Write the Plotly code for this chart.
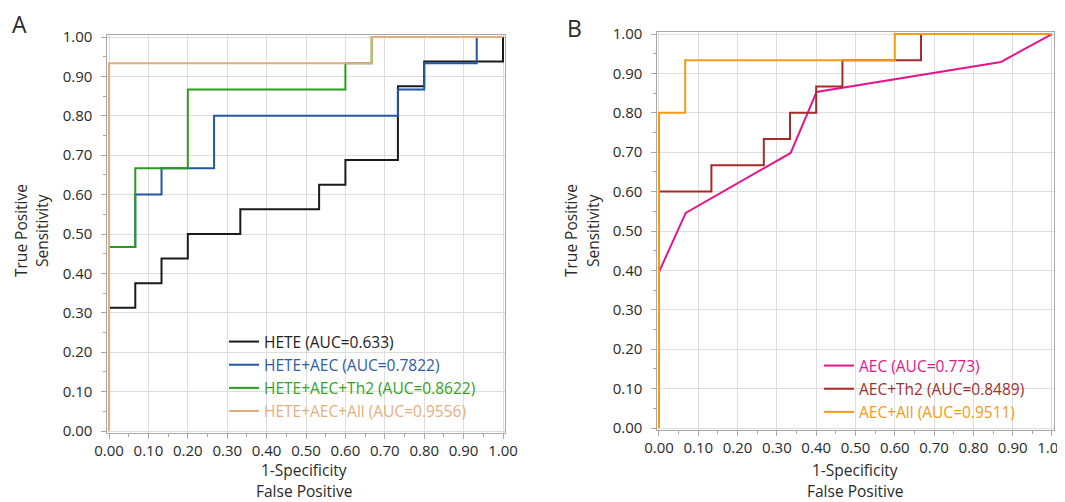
import plotly.graph_objects as go

# ---------------- data (ROC corner points) ----------------
# Panel A
hete_fpr = [0, 0, 0.0667, 0.1333, 0.2, 0.3333, 0.5333, 0.6, 0.7333, 0.8, 1.0]
hete_tpr = [0, 0.3125, 0.375, 0.4375, 0.5, 0.5625, 0.625, 0.6875, 0.875, 0.9375, 1.0]

hete_aec_fpr = [0, 0, 0.0667, 0.1333, 0.2667, 0.7333, 0.8, 0.9333, 1.0]
hete_aec_tpr = [0, 0.4667, 0.6, 0.6667, 0.8, 0.8667, 0.9333, 1.0, 1.0]

hete_aec_th2_fpr = [0, 0, 0.0667, 0.2, 0.6, 0.6667, 1.0]
hete_aec_th2_tpr = [0, 0.4667, 0.6667, 0.8667, 0.9333, 1.0, 1.0]

hete_aec_all_fpr = [0, 0, 0.6667, 1.0]
hete_aec_all_tpr = [0, 0.9333, 1.0, 1.0]

# Panel B
aec_fpr = [0, 0, 0.068, 0.335, 0.401, 0.870, 1.0]
aec_tpr = [0, 0.396, 0.546, 0.698, 0.853, 0.929, 1.0]

aec_th2_fpr = [0, 0, 0.1333, 0.2667, 0.3333, 0.4, 0.4667, 0.6667, 1.0]
aec_th2_tpr = [0, 0.6, 0.6667, 0.7333, 0.8, 0.8667, 0.9333, 1.0, 1.0]

aec_all_fpr = [0, 0, 0.0667, 0.6, 1.0]
aec_all_tpr = [0, 0.8, 0.9333, 1.0, 1.0]

names_a = ["HETE (AUC=0.633)", "HETE+AEC (AUC=0.7822)",
           "HETE+AEC+Th2 (AUC=0.8622)", "HETE+AEC+All (AUC=0.9556)"]
names_b = ["AEC (AUC=0.773)", "AEC+Th2 (AUC=0.8489)", "AEC+All (AUC=0.9511)"]

tick_vals = [i / 10 for i in range(11)]
tick_text = [f"{v:.2f}" for v in tick_vals]

# ---------------- style ----------------
OFF = 8                      # default page (body) margin of the html page
W, H = 1065 - OFF, 502 - OFF
FONT = "Open Sans"
col_a = ["#1b1b1b", "#2157A6", "#2A9C1B", "#E2AC7E"]
txt_a = ["#222222", "#2E5BA8", "#36A026", "#E6AE7E"]
col_b = ["#E5168C", "#A52A2A", "#F59A13"]
txt_b = ["#E5168C", "#A03030", "#F59A13"]

PAD = 0.004


def px_x(px):
    return (px - OFF) / W


def px_y(py):
    return (H - (py - OFF)) / H


def xdom(p0, p1):
    s = p1 - p0
    return [px_x(p0 - PAD * s), px_x(p1 + PAD * s)]


def ydom(p0, p1):  # p0 = pixel of value 0 (bottom), p1 = pixel of value 1 (top)
    s = p0 - p1
    return [px_y(p0 + PAD * s), px_y(p1 - PAD * s)]


fig = go.Figure()

series_a = [(hete_fpr, hete_tpr, "hv"), (hete_aec_fpr, hete_aec_tpr, "hv"),
            (hete_aec_th2_fpr, hete_aec_th2_tpr, "hv"),
            (hete_aec_all_fpr, hete_aec_all_tpr, "hv")]
for (x, y, sh), nm, c, tc in zip(series_a, names_a, col_a, txt_a):
    fig.add_trace(go.Scatter(x=x, y=y, mode="lines", line=dict(color=c, width=2, shape=sh),
                             name=f'<span style="color:{tc}">{nm}</span>',
                             xaxis="x", yaxis="y", legend="legend"))

series_b = [(aec_fpr, aec_tpr, "linear"), (aec_th2_fpr, aec_th2_tpr, "hv"),
            (aec_all_fpr, aec_all_tpr, "hv")]
for (x, y, sh), nm, c, tc in zip(series_b, names_b, col_b, txt_b):
    fig.add_trace(go.Scatter(x=x, y=y, mode="lines", line=dict(color=c, width=2, shape=sh),
                             name=f'<span style="color:{tc}">{nm}</span>',
                             xaxis="x2", yaxis="y2", legend="legend2"))

axis_common = dict(
    range=[-PAD, 1 + PAD], tickvals=tick_vals, ticktext=tick_text,
    showgrid=True, gridcolor="#DEDEDE", gridwidth=1,
    showline=True, linecolor="#A8A8A8", linewidth=1, mirror=True,
    ticks="outside", ticklen=5, tickcolor="#A8A8A8",
    minor=dict(ticks="outside", dtick=0.05, tick0=0, ticklen=3, tickcolor="#A8A8A8", showgrid=False),
    tickfont=dict(family=FONT, size=15, color="#2a2a2a"),
    zeroline=False, fixedrange=True, automargin=False,
    ticklabeloverflow="allow",
)
xax = dict(axis_common, ticklabelstandoff=-1)
yax = dict(axis_common, ticklabelstandoff=6)

fig.update_layout(
    template="none",
    width=W, height=H, autosize=False,
    margin=dict(l=0, r=0, t=0, b=0, pad=0, autoexpand=False),
    paper_bgcolor="white", plot_bgcolor="white",
    font=dict(family=FONT, size=15, color="#2a2a2a"),
    xaxis=dict(domain=xdom(109, 503), anchor="y", **xax),
    yaxis=dict(domain=ydom(431, 37), anchor="x", **yax),
    xaxis2=dict(domain=xdom(659, 1052), anchor="y2", **xax),
    yaxis2=dict(domain=ydom(428, 34), anchor="x2", **yax),
    legend=dict(x=px_x(224), y=px_y(325), xanchor="left", yanchor="top",
                bgcolor="rgba(0,0,0,0)", borderwidth=0,
                font=dict(family=FONT, size=15.5), traceorder="normal"),
    legend2=dict(x=px_x(819), y=px_y(349), xanchor="left", yanchor="top",
                 bgcolor="rgba(0,0,0,0)", borderwidth=0,
                 font=dict(family=FONT, size=15.5), traceorder="normal"),
    showlegend=True,
)


def ann(text, px, py, angle=0, size=15.5):
    fig.add_annotation(text=text, x=px_x(px), y=px_y(py), xref="paper", yref="paper",
                       showarrow=False, textangle=angle, xanchor="center", yanchor="middle",
                       font=dict(family=FONT, size=size, color="#2a2a2a"))


ann("A", 19, 24, size=23)
ann("B", 574, 28, size=23)
ann("True Positive", 21, 231, angle=-90)
ann("Sensitivity", 42, 231, angle=-90)
ann("True Positive", 571, 231, angle=-90)
ann("Sensitivity", 593, 231, angle=-90)
ann("1-Specificity", 304, 470)
ann("False Positive", 304, 491)
ann("1-Specificity", 855, 470)
ann("False Positive", 855, 491)

fig.write_html("out.html")
